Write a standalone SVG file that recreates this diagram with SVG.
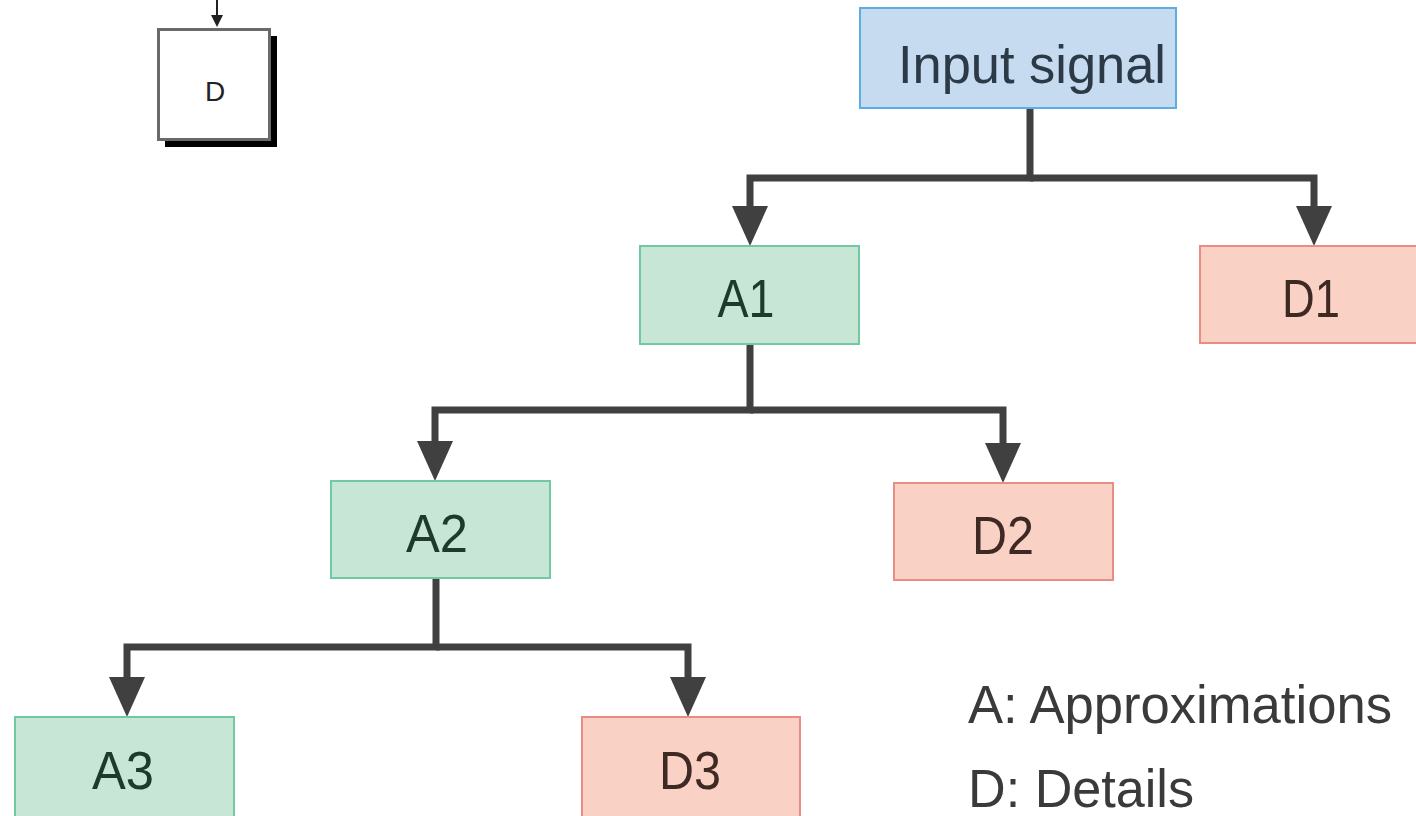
<svg xmlns="http://www.w3.org/2000/svg" width="1416" height="816" viewBox="0 0 1416 816">
<style>
.lbl{font-family:"Liberation Sans",Arial,sans-serif;font-size:54px;text-anchor:middle}
.a rect{fill:#c8e6d5;stroke:#6fcaa2;stroke-width:2}
.a text{fill:#1e3a2c}
.d rect{fill:#f9d1c5;stroke:#e98c84;stroke-width:2}
.d text{fill:#3e2a22}
.conn{fill:none;stroke:#404040;stroke-width:7;stroke-linejoin:miter}
.legend{font-family:"Liberation Sans",Arial,sans-serif;font-size:54px;fill:#3a3a3a}
</style>
<defs>
<marker id="ah" markerUnits="userSpaceOnUse" markerWidth="40" markerHeight="36" viewBox="0 0 40 36" refX="4" refY="18" orient="auto">
<path d="M0 0 L40 18 L0 36 z" fill="#404040"/>
</marker>
<marker id="ahs" markerUnits="userSpaceOnUse" markerWidth="12" markerHeight="12" viewBox="0 0 12 12" refX="2" refY="6" orient="auto">
<path d="M0 0 L12 6 L0 12 z" fill="#222"/>
</marker>
</defs>
<rect width="1416" height="816" fill="#fff"/>
<g id="connectors">
<path class="conn" d="M1030 108 V178 H750 V210" marker-end="url(#ah)"/>
<path class="conn" d="M1030 178 H1314 V210" marker-end="url(#ah)"/>
<path class="conn" d="M750 344 V410 H435 V445" marker-end="url(#ah)"/>
<path class="conn" d="M750 410 H1003 V447" marker-end="url(#ah)"/>
<path class="conn" d="M436 578 V647 H127 V681" marker-end="url(#ah)"/>
<path class="conn" d="M436 647 H688 V681" marker-end="url(#ah)"/>
<path d="M217 0 V17" stroke="#222" stroke-width="2" fill="none" marker-end="url(#ahs)"/>
</g>
<g id="small-d">
<rect x="165" y="36" width="112" height="111" fill="#000"/>
<rect x="158.5" y="29.5" width="111" height="110" fill="#fff" stroke="#6a6a6a" stroke-width="3"/>
<text x="215" y="101" font-family="Liberation Sans,Arial,sans-serif" font-size="28" text-anchor="middle" fill="#222">D</text>
</g>
<g id="input">
<rect x="860" y="8" width="316" height="100" fill="#c6daf0" stroke="#5aaee0" stroke-width="2"/>
<text class="lbl" x="1032" y="83" fill="#2c3a48" textLength="268" lengthAdjust="spacingAndGlyphs">Input signal</text>
</g>
<g id="A1" class="a">
<rect x="640" y="246" width="219" height="98"/>
<text class="lbl" x="746" y="317" font-size="58" textLength="57" lengthAdjust="spacingAndGlyphs">A1</text>
</g>
<g id="D1" class="d">
<rect x="1200" y="246" width="220" height="97"/>
<text class="lbl" x="1311" y="317" font-size="58" textLength="58" lengthAdjust="spacingAndGlyphs">D1</text>
</g>
<g id="A2" class="a">
<rect x="331" y="481" width="219" height="97"/>
<text class="lbl" x="437" y="552" font-size="58" textLength="62" lengthAdjust="spacingAndGlyphs">A2</text>
</g>
<g id="D2" class="d">
<rect x="894" y="483" width="219" height="97"/>
<text class="lbl" x="1003" y="554" font-size="58" textLength="62" lengthAdjust="spacingAndGlyphs">D2</text>
</g>
<g id="A3" class="a">
<rect x="15" y="717" width="219" height="105"/>
<text class="lbl" x="123" y="789" font-size="58" textLength="62" lengthAdjust="spacingAndGlyphs">A3</text>
</g>
<g id="D3" class="d">
<rect x="582" y="717" width="218" height="105"/>
<text class="lbl" x="690" y="789" font-size="58" textLength="62" lengthAdjust="spacingAndGlyphs">D3</text>
</g>
<g id="legend">
<text class="legend" x="968" y="723" font-size="56" textLength="424" lengthAdjust="spacingAndGlyphs">A: Approximations</text>
<text class="legend" x="968" y="807" font-size="56" textLength="226" lengthAdjust="spacingAndGlyphs">D: Details</text>
</g>
</svg>
